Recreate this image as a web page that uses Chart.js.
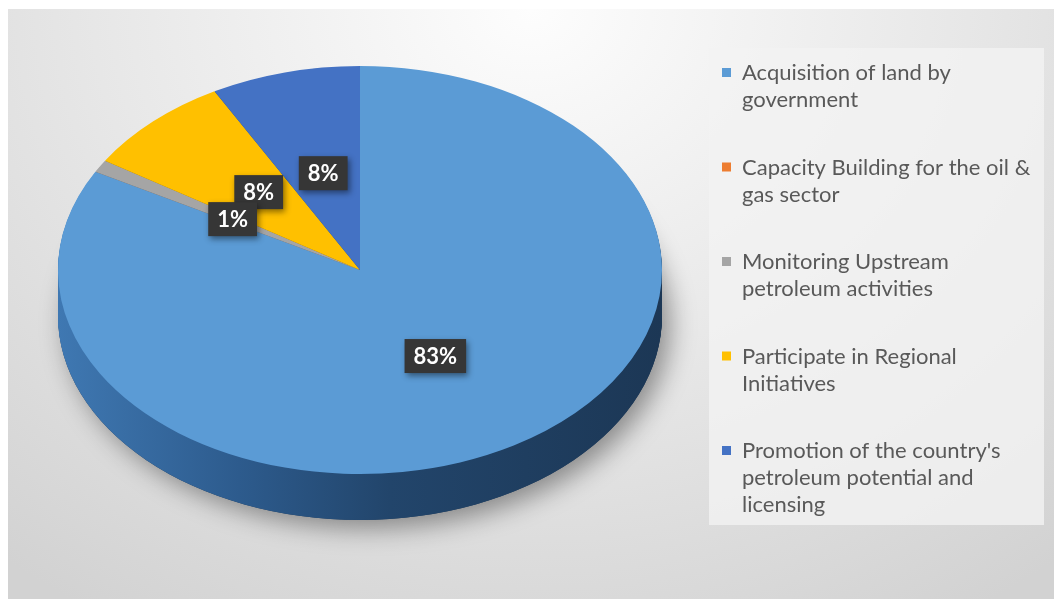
<!DOCTYPE html>
<html>
<head>
<meta charset="utf-8">
<script src="https://cdn.jsdelivr.net/npm/chart.js@4.4.0/dist/chart.umd.min.js"></script>
<style>
  html, body { margin: 0; padding: 0; background: #ffffff; }
  #stage { position: relative; width: 1054px; height: 599px; overflow: hidden; }
  #bg {
    position: absolute; left: 8px; top: 9px; right: 0; bottom: 0;
    background: radial-gradient(ellipse 80% 120% at 50% 0%, #fdfdfd 0%, #e8e8e8 50%, #d2d2d2 100%);
  }
  #pie { position: absolute; left: 0; top: 0; }
</style>
</head>
<body>
<div id="stage">
  <div id="bg"></div>
  <canvas id="pie" width="1054" height="599"></canvas>
</div>
<script>
// datos del gráfico
const categories = [
  ['Acquisition of land by', 'government'],
  ['Capacity Building for the oil &', 'gas sector'],
  ['Monitoring Upstream', 'petroleum activities'],
  ['Participate in Regional', 'Initiatives'],
  ["Promotion of the country's", 'petroleum potential and', 'licensing']
];
const shares = [83, 0, 1, 8, 8];
const sliceColors = ['#5b9bd5', '#ed7d31', '#a5a5a5', '#ffc000', '#4472c4'];
const sideColors = ['#2b5a8a', '#8a4516', '#5e5e5e', '#947000', '#27437a'];

// geometría del pastel inclinado
const CX = 360, CY = 270, RX = 302, RY = 204, DEPTH = 46;
const TILT = RY / RX;

function tilt(ctx, x, y) {
  ctx.translate(x, y);
  ctx.scale(1, TILT);
  ctx.translate(-x, -y);
}

function slicePath(ctx, a) {
  ctx.beginPath();
  ctx.moveTo(a.x, a.y);
  ctx.arc(a.x, a.y, a.outerRadius, a.startAngle, a.endAngle);
  ctx.closePath();
}

const pie3d = {
  id: 'pie3d',
  beforeDatasetsDraw(chart) {
    const ctx = chart.ctx;
    const arcs = chart.getDatasetMeta(0).data;
    const a0 = arcs[0];

    // sombra bajo el pastel
    ctx.save();
    ctx.translate(0, DEPTH);
    tilt(ctx, a0.x, a0.y);
    ctx.shadowColor = 'rgba(0,0,0,0.4)';
    ctx.shadowBlur = 26;
    ctx.shadowOffsetX = 8;
    ctx.shadowOffsetY = 8;
    ctx.beginPath();
    ctx.arc(a0.x, a0.y, a0.outerRadius, 0, Math.PI * 2);
    ctx.fillStyle = '#1d3856';
    ctx.fill();
    ctx.restore();

    // lateral (grosor)
    const grad = ctx.createLinearGradient(CX - RX, 0, CX + RX, 0);
    grad.addColorStop(0, '#3f78b2');
    grad.addColorStop(0.3, '#2d5b8d');
    grad.addColorStop(0.55, '#22456b');
    grad.addColorStop(1, '#1c3755');
    for (let d = DEPTH; d >= 1; d--) {
      ctx.save();
      ctx.translate(0, d);
      tilt(ctx, a0.x, a0.y);
      arcs.forEach((a, i) => {
        if (a.endAngle - a.startAngle <= 0) return;
        slicePath(ctx, a);
        ctx.fillStyle = i === 0 ? grad : sideColors[i];
        ctx.fill();
      });
      ctx.restore();
    }

    // cara superior
    ctx.save();
    tilt(ctx, a0.x, a0.y);
  },
  afterDatasetsDraw(chart) {
    chart.ctx.restore();
  },
  afterDraw(chart) {
    const ctx = chart.ctx;
    const arcs = chart.getDatasetMeta(0).data;
    const total = shares.reduce((s, v) => s + v, 0);

    // etiquetas de porcentaje
    ctx.save();
    ctx.font = 'bold 22px Lato, sans-serif';
    ctx.textAlign = 'center';
    ctx.textBaseline = 'middle';
    const h = 34;
    const boxes = [];
    arcs.forEach((a, i) => {
      if (!shares[i]) return;
      const mid = (a.startAngle + a.endAngle) / 2;
      const txt = Math.round(shares[i] / total * 100) + '%';
      boxes.push({
        i, txt,
        x: a.x + Math.cos(mid) * a.outerRadius * 0.49,
        y: a.y + Math.sin(mid) * a.outerRadius * 0.49 * TILT,
        w: ctx.measureText(txt).width + 18
      });
    });
    // se dibujan en orden inverso; si una caja tapa el texto de otra, se sube la de abajo
    for (let k = boxes.length - 1; k > 0; k--) {
      const under = boxes[k], over = boxes[k - 1];
      const overlapX = Math.abs(under.x - over.x) < (under.w + over.w) / 2;
      const top = over.y - h / 2;
      if (overlapX && under.y < over.y && under.y + 10 > top) under.y = top - 10;
    }
    for (let k = boxes.length - 1; k >= 0; k--) {
      const b = boxes[k];
      ctx.save();
      ctx.shadowColor = 'rgba(0,0,0,0.45)';
      ctx.shadowBlur = 6;
      ctx.shadowOffsetX = 2;
      ctx.shadowOffsetY = 3;
      ctx.fillStyle = '#363636';
      ctx.fillRect(b.x - b.w / 2, b.y - h / 2, b.w, h);
      ctx.restore();
      ctx.fillStyle = '#ffffff';
      ctx.fillText(b.txt, b.x, b.y + 1);
    }
    ctx.restore();

    // leyenda
    ctx.save();
    ctx.fillStyle = 'rgba(242,242,242,0.8)';
    ctx.fillRect(709, 48, 335, 477);
    ctx.font = '22px Lato, sans-serif';
    ctx.textAlign = 'left';
    ctx.textBaseline = 'middle';
    let y = 73;
    categories.forEach((lines, i) => {
      ctx.fillStyle = sliceColors[i];
      ctx.fillRect(722, y - 5, 9, 9);
      ctx.fillStyle = '#595959';
      lines.forEach((ln, j) => ctx.fillText(ln, 742, y + j * 27));
      y += lines.length * 27 + 40.5;
    });
    ctx.restore();
  }
};

new Chart(document.getElementById('pie'), {
  type: 'pie',
  data: {
    labels: categories,
    datasets: [{
      data: shares,
      backgroundColor: sliceColors,
      borderWidth: 0
    }]
  },
  options: {
    responsive: false,
    animation: false,
    radius: RX,
    layout: { padding: { left: CX - RX, right: 1054 - (CX + RX), top: 0, bottom: 599 - 2 * CY } },
    plugins: {
      legend: { display: false },
      tooltip: { enabled: false }
    }
  },
  plugins: [pie3d]
});
</script>
</body>
</html>
